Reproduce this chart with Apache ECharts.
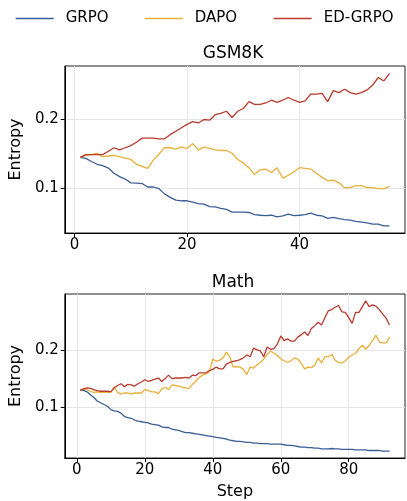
<!DOCTYPE html>
<html>
<head>
<meta charset="utf-8">
<script src="https://cdn.jsdelivr.net/npm/echarts@6/dist/echarts.min.js"></script>
<style>
  html, body { margin: 0; padding: 0; background: #fff; }
  #chart { width: 407px; height: 501px; }
</style>
</head>
<body>
<div id="chart"></div>
<script>
// GSM8K entropy per step (steps 1..56)
const gsmGrpo = [0.145, 0.1435, 0.139, 0.135, 0.133, 0.1295, 0.122, 0.117, 0.1135, 0.108, 0.1075, 0.107, 0.102, 0.102, 0.0995, 0.092, 0.087, 0.083, 0.082, 0.082, 0.080, 0.078, 0.077, 0.0735, 0.073, 0.071, 0.0695, 0.0655, 0.0655, 0.0655, 0.065, 0.062, 0.061, 0.0605, 0.061, 0.0585, 0.060, 0.0625, 0.0605, 0.061, 0.062, 0.064, 0.061, 0.060, 0.0565, 0.058, 0.056, 0.0545, 0.054, 0.052, 0.051, 0.050, 0.048, 0.048, 0.0455, 0.0455];
const gsmDapo = [0.145, 0.148, 0.149, 0.151, 0.146, 0.147, 0.148, 0.146, 0.144, 0.142, 0.135, 0.132, 0.129, 0.141, 0.150, 0.159, 0.159, 0.157, 0.160, 0.158, 0.165, 0.156, 0.160, 0.158, 0.156, 0.155, 0.155, 0.151, 0.142, 0.137, 0.130, 0.120, 0.127, 0.128, 0.123, 0.130, 0.115, 0.119, 0.124, 0.130, 0.129, 0.128, 0.122, 0.116, 0.111, 0.112, 0.108, 0.101, 0.101, 0.104, 0.104, 0.101, 0.101, 0.0995, 0.0995, 0.103];
const gsmEdGrpo = [0.145, 0.149, 0.149, 0.149, 0.149, 0.154, 0.159, 0.156, 0.159, 0.162, 0.167, 0.173, 0.173, 0.173, 0.172, 0.172, 0.178, 0.183, 0.188, 0.193, 0.197, 0.195, 0.200, 0.199, 0.207, 0.209, 0.212, 0.203, 0.212, 0.216, 0.226, 0.222, 0.222, 0.224, 0.228, 0.225, 0.228, 0.232, 0.228, 0.225, 0.227, 0.237, 0.237, 0.238, 0.226, 0.242, 0.239, 0.244, 0.239, 0.237, 0.239, 0.243, 0.250, 0.261, 0.256, 0.267];

// Math entropy per step (steps 1..92)
const mathGrpo = [0.130, 0.1295, 0.127, 0.122, 0.117, 0.111, 0.108, 0.105, 0.102, 0.096, 0.094, 0.093, 0.090, 0.084, 0.082, 0.081, 0.078, 0.076, 0.075, 0.074, 0.073, 0.071, 0.070, 0.069, 0.066, 0.065, 0.065, 0.062, 0.061, 0.060, 0.058, 0.056, 0.056, 0.055, 0.054, 0.053, 0.052, 0.051, 0.050, 0.049, 0.048, 0.047, 0.046, 0.045, 0.043, 0.042, 0.041, 0.041, 0.040, 0.039, 0.039, 0.038, 0.038, 0.037, 0.037, 0.037, 0.036, 0.036, 0.036, 0.036, 0.035, 0.034, 0.034, 0.033, 0.032, 0.031, 0.031, 0.030, 0.030, 0.029, 0.029, 0.028, 0.028, 0.028, 0.0285, 0.028, 0.028, 0.027, 0.027, 0.027, 0.027, 0.026, 0.026, 0.026, 0.026, 0.025, 0.025, 0.025, 0.025, 0.024, 0.024, 0.024];
const mathDapo = [0.130, 0.132, 0.131, 0.128, 0.126, 0.127, 0.126, 0.126, 0.126, 0.127, 0.135, 0.126, 0.123, 0.125, 0.125, 0.123, 0.125, 0.125, 0.125, 0.131, 0.129, 0.127, 0.127, 0.124, 0.132, 0.135, 0.131, 0.139, 0.138, 0.137, 0.135, 0.134, 0.133, 0.140, 0.145, 0.152, 0.156, 0.158, 0.162, 0.184, 0.180, 0.182, 0.186, 0.196, 0.188, 0.170, 0.171, 0.170, 0.166, 0.157, 0.170, 0.168, 0.174, 0.178, 0.184, 0.192, 0.198, 0.194, 0.190, 0.184, 0.181, 0.178, 0.181, 0.186, 0.184, 0.177, 0.167, 0.170, 0.169, 0.173, 0.186, 0.177, 0.188, 0.188, 0.192, 0.182, 0.178, 0.177, 0.181, 0.187, 0.191, 0.194, 0.202, 0.208, 0.201, 0.208, 0.216, 0.225, 0.214, 0.212, 0.212, 0.222];
const mathEdGrpo = [0.130, 0.132, 0.134, 0.133, 0.131, 0.129, 0.128, 0.128, 0.128, 0.127, 0.134, 0.138, 0.141, 0.136, 0.140, 0.139, 0.137, 0.141, 0.144, 0.148, 0.145, 0.147, 0.149, 0.151, 0.145, 0.150, 0.156, 0.150, 0.151, 0.151, 0.151, 0.152, 0.151, 0.156, 0.155, 0.160, 0.160, 0.160, 0.164, 0.166, 0.170, 0.167, 0.167, 0.175, 0.178, 0.180, 0.181, 0.183, 0.186, 0.191, 0.188, 0.203, 0.200, 0.198, 0.188, 0.205, 0.201, 0.202, 0.210, 0.224, 0.216, 0.219, 0.215, 0.215, 0.222, 0.226, 0.231, 0.225, 0.237, 0.242, 0.248, 0.243, 0.256, 0.268, 0.270, 0.274, 0.277, 0.266, 0.265, 0.256, 0.246, 0.265, 0.265, 0.275, 0.285, 0.275, 0.278, 0.276, 0.270, 0.262, 0.255, 0.243];

const methodNames = ['GRPO', 'DAPO', 'ED-GRPO'];
const methodColors = ['#3b5e96', '#eab03a', '#bb3a30'];
const panelTitles = ['GSM8K', 'Math'];
const xTicks = [[0, 20, 40], [0, 20, 40, 60, 80]];
const yTicks = [0.1, 0.2];

const FONT = 'DejaVu Sans';

const withSteps = (vals) => vals.map((v, i) => [i + 1, v]);

const chart = echarts.init(document.getElementById('chart'), null, { renderer: 'canvas' });

const grids = [
  { left: 62, top: 66, width: 343, height: 167 },
  { left: 62, top: 294, width: 343, height: 168 },
];
const xRanges = [[-1.75, 58.75], [-3.55, 96.55]];
const yRanges = [[0.0352, 0.2777], [0.012, 0.297]];

const xAxes = grids.map((g, i) => ({
  type: 'value',
  gridIndex: i,
  min: xRanges[i][0],
  max: xRanges[i][1],
  name: i === 1 ? 'Step' : '',
  nameLocation: 'middle',
  nameGap: 26,
  nameTextStyle: { fontFamily: FONT, fontSize: 16, color: '#000' },
  axisLine: { show: true, onZero: false, lineStyle: { color: '#000', width: 1 } },
  axisTick: { show: true, inside: false, length: 4, customValues: xTicks[i], lineStyle: { color: '#000' } },
  axisLabel: { customValues: xTicks[i], margin: 5, fontFamily: FONT, fontSize: 15, color: '#000' },
  splitLine: { show: true, lineStyle: { color: '#e6e6e6', width: 1 } },
}));

const yAxes = grids.map((g, i) => ({
  type: 'value',
  gridIndex: i,
  min: yRanges[i][0],
  max: yRanges[i][1],
  name: 'Entropy',
  nameLocation: 'middle',
  nameGap: 34,
  nameTextStyle: { fontFamily: FONT, fontSize: 16, color: '#000' },
  axisLine: { show: true, onZero: false, lineStyle: { color: '#000', width: 1 } },
  axisTick: { show: true, inside: false, length: 4, customValues: yTicks, lineStyle: { color: '#000' } },
  axisLabel: {
    customValues: yTicks, margin: 6, fontFamily: FONT, fontSize: 15, color: '#000',
    formatter: (v) => v.toFixed(1),
  },
  splitLine: { show: true, lineStyle: { color: '#e6e6e6', width: 1 } },
}));

const panels = [
  [gsmGrpo, gsmDapo, gsmEdGrpo],
  [mathGrpo, mathDapo, mathEdGrpo],
];
const series = [];
panels.forEach((lines, p) => {
  lines.forEach((vals, k) => {
    series.push({
      type: 'line',
      name: methodNames[k],
      xAxisIndex: p,
      yAxisIndex: p,
      data: withSteps(vals),
      symbol: 'none',
      smooth: false,
      lineStyle: { color: methodColors[k], width: 1.3 },
      itemStyle: { color: methodColors[k] },
      z: 3 + k,
    });
  });
});

// one legend per item so each sits where the reference puts it
const legendLefts = [15, 144, 273];
const option = {
  animation: false,
  backgroundColor: '#fff',
  title: panelTitles.map((t, i) => ({
    text: t,
    left: 233,
    top: i === 0 ? 45 : 274,
    textAlign: 'center',
    padding: 0,
    textStyle: { fontFamily: FONT, fontSize: 17, fontWeight: 'normal', color: '#000' },
  })),
  legend: methodNames.map((n, k) => ({
    data: [n],
    left: legendLefts[k],
    top: 11,
    padding: 0,
    itemWidth: 38,
    itemHeight: 14,
    itemStyle: { color: 'rgba(0,0,0,0)', borderWidth: 0 },
    lineStyle: { width: 1.3 },
    textStyle: { fontFamily: FONT, fontSize: 15, color: '#000', padding: [0, 0, 0, 7] },
  })),
  grid: grids.map((g) => ({ ...g, show: true, borderColor: '#222', borderWidth: 1, backgroundColor: 'transparent' })),
  xAxis: xAxes,
  yAxis: yAxes,
  series: series,
};

chart.setOption(option);
</script>
</body>
</html>
